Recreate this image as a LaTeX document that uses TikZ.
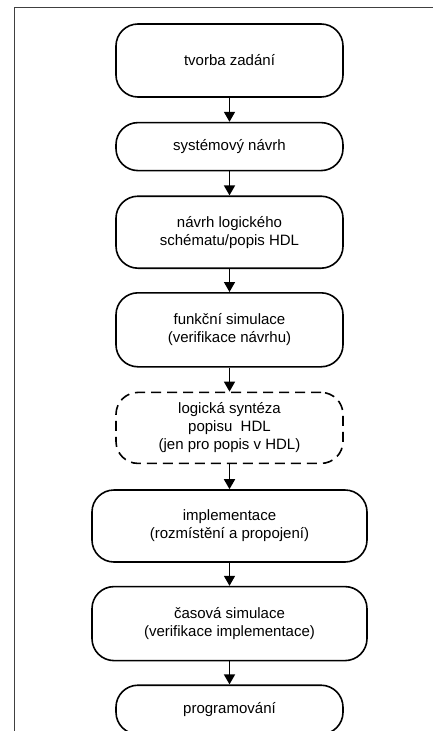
\documentclass[tikz,border=0pt]{standalone}
\usepackage{fontspec}
\setmainfont{Liberation Sans}
\usepackage{tikz}
\usetikzlibrary{positioning,arrows.meta}
\tikzset{>={Triangle[length=10pt,width=11pt]}}
\tikzset{stage/.style={draw, line width=1.6pt, rounded corners=22pt, minimum width=227pt, inner sep=0pt, align=center, font=\fontsize{15pt}{18pt}\selectfont},
         widestage/.style={stage, minimum width=275pt},
         optstage/.style={stage, dash pattern=on 10pt off 6pt}}

\begin{document}
\begin{tikzpicture}[x=1pt, y=-1pt, node distance=24pt, line join=round]
    \useasboundingbox (0,0) rectangle (433,731);
    \draw[black!75, line width=1pt] (433,7) -- (14.5,7) -- (14.5,731);
    \node[stage, minimum height=73pt] (zadani) at (229.5,60.5) {tvorba zadání};
    \node[stage, minimum height=48pt, below=of zadani] (system) {systémový návrh};
    \node[stage, minimum height=72pt, below=of system] (schema) {návrh logického\\schématu/popis HDL};
    \node[stage, minimum height=74pt, below=23pt of schema] (funkcni) {funkční simulace\\(verifikace návrhu)};
    \node[optstage, minimum height=71pt, below=of funkcni] (synteza) {logická syntéza\\popisu\ \ HDL\\(jen pro popis v HDL)};
    \node[widestage, minimum height=72pt, below=25pt of synteza] (impl) {implementace\\(rozmístění a propojení)};
    \node[widestage, minimum height=74pt, below=23pt of impl] (casova) {časová simulace\\(verifikace implementace)};
    \node[stage, minimum height=49pt, below=23pt of casova] (prog) {programování};
    \draw[->, line width=1.6pt] (zadani) -- (system);
    \draw[->, line width=1.6pt] (system) -- (schema);
    \draw[->, line width=1.6pt] (schema) -- (funkcni);
    \draw[->, line width=1.6pt] (funkcni) -- (synteza);
    \draw[->, line width=1.6pt] (synteza) -- (impl);
    \draw[->, line width=1.6pt] (impl) -- (casova);
    \draw[->, line width=1.6pt] (casova) -- (prog);
\end{tikzpicture}
\end{document}
